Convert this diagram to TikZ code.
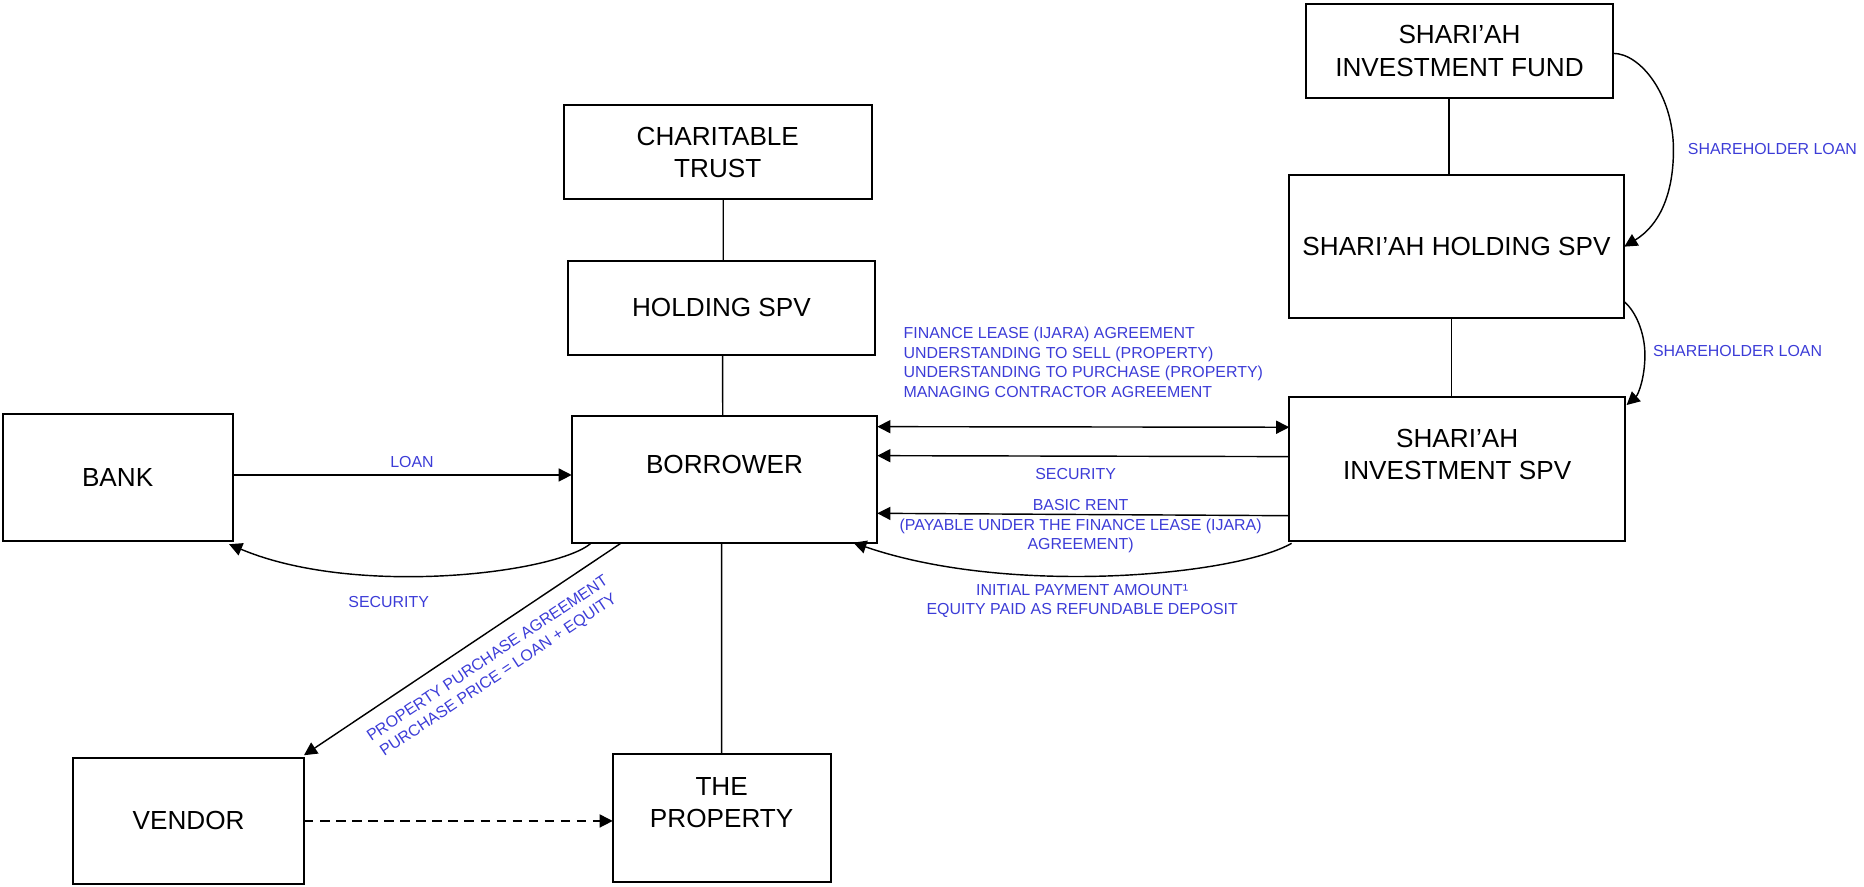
\documentclass[tikz,border=0pt]{standalone}
\usepackage{fontspec}
\setmainfont{Liberation Sans}
\usetikzlibrary{arrows.meta}
\definecolor{lblue}{RGB}{60,60,215}
\begin{document}
\begin{tikzpicture}[x=1pt,y=-1pt,
  box/.style={draw=black, line width=1.6pt, inner sep=0pt, outer sep=0pt, align=center,
              font=\fontsize{22}{27}\selectfont},
  boxtext/.style={inner sep=0pt, align=center, font=\fontsize{22}{27}\selectfont},
  lbl/.style={inner sep=0pt, align=center, text=lblue, font=\fontsize{13.4}{16.5}\selectfont},
  conn/.style={line width=1.2pt},
  arr/.style={conn, -{Triangle[length=11pt,width=11pt]}},
  darr/.style={conn, {Triangle[length=11pt,width=11pt]}-{Triangle[length=11pt,width=11pt]}}
]
\useasboundingbox (0,0) rectangle (1568,746);

% boxes
\node[box, minimum width=258.5pt, minimum height=79.5pt] (fund) at (1227.75,42.9) {SHARI’AH\\INVESTMENT FUND};
\node[box, minimum width=282.3pt, minimum height=120.6pt] (sholding) at (1225.2,207.5) {SHARI’AH HOLDING SPV};
\node[box, minimum width=282.5pt, minimum height=120.5pt] (sinvest) at (1225.75,394.55) {};
\node[boxtext] (sinvesttxt) at ([yshift=12.5pt]sinvest.center) {SHARI’AH\\INVESTMENT SPV};
\node[box, minimum width=258.8pt, minimum height=79.4pt] (trust) at (603.8,128) {CHARITABLE\\TRUST};
\node[box, minimum width=258.2pt, minimum height=79.3pt] (holding) at (606.9,258.95) {HOLDING SPV};
\node[box, minimum width=257.1pt, minimum height=106.6pt] (borrower) at (609.45,403.2) {};
\node[boxtext] (borrowertxt) at ([yshift=12.4pt]borrower.center) {BORROWER};
\node[box, minimum width=193.5pt, minimum height=106.5pt] (bank) at (98.95,401.55) {BANK};
\node[box, minimum width=194pt, minimum height=106.6pt] (vendor) at (158.7,690.6) {VENDOR};
\node[box, minimum width=183.3pt, minimum height=107.3pt] (property) at (607.05,687.95) {};
\node[boxtext] (propertytxt) at ([yshift=12.65pt]property.center) {THE\\PROPERTY};

% plain connectors
\draw[conn] ([xshift=-8.75pt]fund.south) -- ([xshift=-6.2pt]sholding.north);
\draw[conn] ([xshift=-4.2pt]sholding.south) -- ([xshift=-4.75pt]sinvest.north);
\draw[conn] ([xshift=4.6pt]trust.south) -- ([xshift=1.5pt]holding.north);
\draw[conn] ([xshift=1pt]holding.south) -- ([xshift=-1.5pt]borrower.north);
\draw[conn] ([xshift=-2.45pt]borrower.south) -- (property.north);

% left side arrows
\draw[arr] ([yshift=2pt]bank.east) -- ([yshift=2pt]bank.east -| borrower.west);
\draw[arr] ([xshift=-111.75pt]borrower.south) .. controls (470,482) and (300,503) .. ([xshift=-3pt,yshift=-3pt]bank.south east);
\draw[arr] ([xshift=-86.45pt]borrower.south) -- ([yshift=2pt]vendor.north east);
\draw[arr, dash pattern=on 8pt off 5.5pt] (vendor.east) -- (vendor.east -| property.west);

% right side arrows
\draw[darr] ([yshift=44.3pt]borrower.east) -- ([yshift=35.15pt]sinvest.west);
\draw[arr] ([yshift=10.45pt]sinvest.west) -- ([yshift=19.9pt]borrower.east);
\draw[arr] ([yshift=-39.25pt]sinvest.west) -- ([yshift=-28.6pt]borrower.east);
\draw[arr] ([xshift=2pt,yshift=-2.2pt]sinvest.south west) .. controls (1040,484) and (850,502) .. ([xshift=108.35pt]borrower.south);

% shareholder loans
\draw[arr] ([yshift=-2pt]fund.east) .. controls (1380,44.9) and (1407.7,80) .. (1407.7,126)
   .. controls (1407.7,165) and (1395,190) .. (sholding.east);
\draw[arr] ([yshift=-46.3pt]sholding.east) .. controls (1376,262) and (1383.7,280) .. (1383.7,298.6)
   .. controls (1383.7,318) and (1378,332) .. ([xshift=1.3pt,yshift=-6.4pt]sinvest.north east);

% labels
\node[lbl] (lblsh1) at (1491,125.5) {SHAREHOLDER LOAN};
\node[lbl] (lblsh2) at (1461.6,295) {SHAREHOLDER LOAN};
\node[lbl, align=left, anchor=west] (lbllease) at (759.9,304.75) {FINANCE LEASE (IJARA) AGREEMENT\\UNDERSTANDING TO SELL (PROPERTY)\\UNDERSTANDING TO PURCHASE (PROPERTY)\\MANAGING CONTRACTOR AGREEMENT};
\node[lbl] (lblsecr) at (904.8,399) {SECURITY};
\node[lbl] (lblrent) at (909,442.6) {BASIC RENT\\(PAYABLE UNDER THE FINANCE LEASE (IJARA)\\AGREEMENT)};
\node[lbl] (lblinit) at (910.3,505.6) {INITIAL PAYMENT AMOUNT¹\\EQUITY PAID AS REFUNDABLE DEPOSIT};
\node[lbl] (lblloan) at (346.6,389) {LOAN};
\node[lbl] (lblsecl) at (327,506.8) {SECURITY};
\node[lbl, rotate=33.7] (lblppa) at (415,561.5) {PROPERTY PURCHASE AGREEMENT\\PURCHASE PRICE = LOAN + EQUITY};
\end{tikzpicture}
\end{document}
